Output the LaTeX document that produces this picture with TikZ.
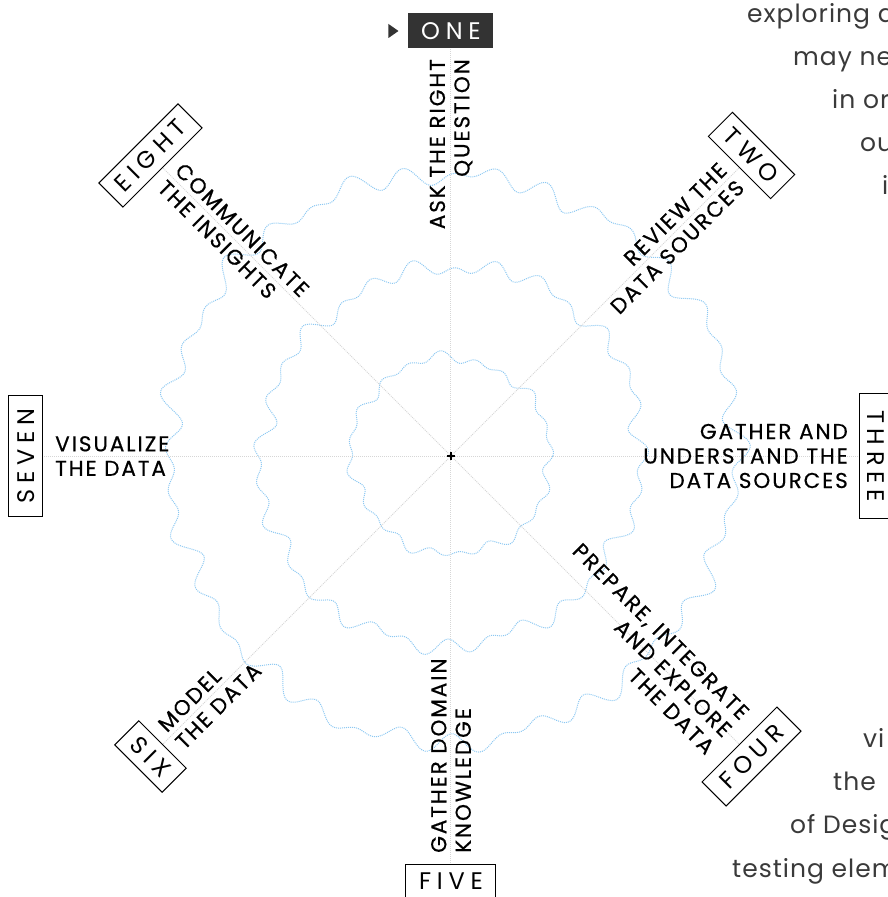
\documentclass[tikz,border=0pt]{standalone}
\usepackage{fontspec}
\setmainfont{Poppins}
\newfontfamily\labelfont[LetterSpace=9,FakeBold=0.5]{Poppins}
\newfontfamily\stepfont[LetterSpace=24]{Poppins}
\newfontfamily\bodyfont[LetterSpace=4]{Poppins}
\definecolor{spokegray}{HTML}{D6D6D6}
\definecolor{ringblue}{HTML}{8CC8F2}
\definecolor{darkbox}{HTML}{333333}
\definecolor{bodygray}{HTML}{3A3A3A}
\pgfdeclarelayer{back}
\pgfsetlayers{back,main}
\tikzset{
  spoke/.style={draw=spokegray, line width=1pt, dash pattern=on 1pt off 1pt},
  ring/.style={draw=ringblue, line width=1pt, dash pattern=on 1pt off 1pt},
  stepbox/.style={draw=black, line width=1pt, fill=white, minimum height=34pt,
    inner xsep=0pt, inner ysep=0pt, text=black,
    font=\stepfont\fontsize{24}{28}\selectfont},
  activebox/.style={stepbox, draw=darkbox, fill=darkbox, text=white},
  outlabel/.style={anchor=east, align=right, inner sep=0pt, text=black,
    font=\labelfont\fontsize{21.5}{24.5}\selectfont},
  inlabel/.style={anchor=west, align=left, inner sep=0pt, text=black,
    font=\labelfont\fontsize{21.5}{24.5}\selectfont},
  bodytext/.style={anchor=base west, inner sep=0pt, text=bodygray,
    font=\bodyfont\fontsize{25}{30}\selectfont},
  marker/.style={fill=darkbox, draw=none},
}
\begin{document}
\begin{tikzpicture}[x=1pt, y=1pt,
  declare function={
    outerr(\t)=284+12*(0.55*sin(37*\t)+0.4*sin(26*\t+60)+0.3*sin(13*\t+120)+0.3*sin(3*\t+40));
    midr(\t)=190+10*(0.55*sin(29*\t+30)+0.4*sin(18*\t+100)+0.3*sin(9*\t+200)+0.3*sin(2*\t+10));
    innerr(\t)=99+6*(0.55*sin(19*\t+80)+0.4*sin(12*\t+10)+0.3*sin(5*\t+300)+0.25*sin(2*\t+150));
  }]
  \useasboundingbox (-451,-441) rectangle (437,456);
  \clip (-451,-441) rectangle (437,456);

  \coordinate (hub) at (0,0);

  % step boxes, spaced on a circle round the hub
  \node[activebox, minimum width=84pt] (b1) at (90:425) {ONE};
  \node[stepbox, minimum width=88pt, rotate=-45] (b2) at (45:425) {TWO};
  \node[stepbox, minimum width=125pt, rotate=-90] (b3) at (0:425) {THREE};
  \node[stepbox, minimum width=106pt, rotate=45] (b4) at (-45:425) {FOUR};
  \node[stepbox, minimum width=90pt] (b5) at (-90:425) {FIVE};
  \node[stepbox, minimum width=67pt, rotate=-45] (b6) at (-135:425) {SIX};
  \node[stepbox, minimum width=121pt, rotate=90] (b7) at (180:425) {SEVEN};
  \node[stepbox, minimum width=112pt, rotate=45] (b8) at (135:425) {EIGHT};

  \begin{pgfonlayer}{back}
    % wavy rings
    \draw[ring] plot[domain=0:360, samples=721] ({outerr(\x)*cos(\x)}, {outerr(\x)*sin(\x)}) -- cycle;
    \draw[ring] plot[domain=0:360, samples=721] ({midr(\x)*cos(\x)}, {midr(\x)*sin(\x)}) -- cycle;
    \draw[ring] plot[domain=0:360, samples=721] ({innerr(\x)*cos(\x)}, {innerr(\x)*sin(\x)}) -- cycle;
    % spokes from the hub to each box
    \foreach \b in {b1,b2,b3,b4,b5,b6,b7,b8}{
      \draw[spoke] (hub) -- (\b.center);
    }
  \end{pgfonlayer}

  % current-step marker
  \fill[marker] ([xshift=-10pt]b1.west) ++(-10,7) -- ++(10,-7) -- ++(-10,-7) -- cycle;

  % centre cross
  \draw[line width=2pt] (-4,0) -- (4,0) (0,-4) -- (0,4);

  % step labels
  \node[outlabel, rotate=90] (l1) at (90:397) {ASK THE RIGHT\\QUESTION};
  \node[outlabel, rotate=45] (l2) at (45:397) {REVIEW THE\\DATA SOURCES};
  \node[outlabel] (l3) at (0:397) {GATHER AND\\UNDERSTAND THE\\DATA SOURCES};
  \node[outlabel, rotate=-45] (l4) at (-45:392) {PREPARE, INTEGRATE\\AND EXPLORE\\THE DATA};
  \node[inlabel, rotate=90] (l5) at (-90:397) {GATHER DOMAIN\\KNOWLEDGE};
  \node[inlabel, rotate=45] (l6) at (-135:397) {MODEL\\THE DATA};
  \node[inlabel] (l7) at (180:396) {VISUALIZE\\THE DATA};
  \node[inlabel, rotate=-45] (l8) at (135:397) {COMMUNICATE\\THE INSIGHTS};

  % surrounding paragraph text
  \node[bodytext] (t1) at (296,433) {exploring a};
  \node[bodytext] (t2) at (342,390) {may ne};
  \node[bodytext] (t3) at (381,347) {in or};
  \node[bodytext] (t4) at (409,304) {ou};
  \node[bodytext] (t5) at (431,261) {i};
  \node[bodytext] (t6) at (412,-291) {vi};
  \node[bodytext] (t7) at (382,-334) {the};
  \node[bodytext] (t8) at (339,-377) {of Desig};
  \node[bodytext] (t9) at (281,-421) {testing elem};
\end{tikzpicture}
\end{document}
